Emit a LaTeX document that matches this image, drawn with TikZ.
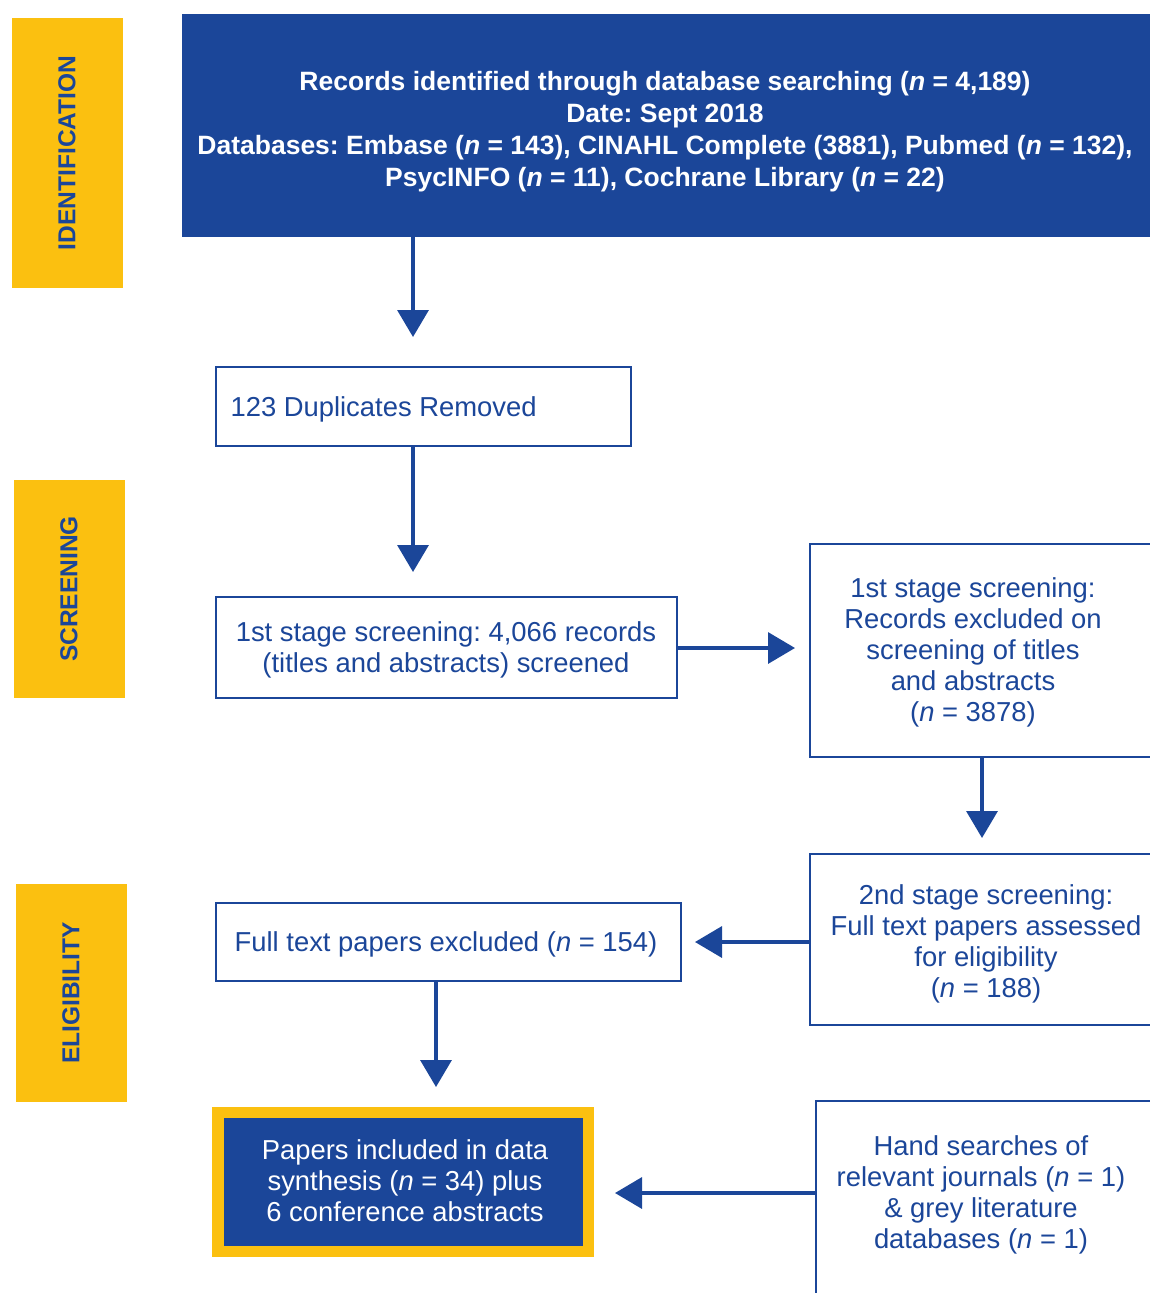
\documentclass[tikz,border=0pt]{standalone}
\usepackage{fontspec}
\setmainfont{Liberation Sans}
\usetikzlibrary{arrows.meta}
\definecolor{pblue}{RGB}{27,70,153}
\definecolor{pyellow}{RGB}{251,192,16}
\frenchspacing
\begin{document}
\begin{tikzpicture}[x=1pt,y=-1pt,
  tab/.style={fill=pyellow,draw=none},
  tablabel/.style={rotate=90,text=pblue,font=\fontsize{24.5}{28}\selectfont\bfseries},
  wbox/.style={draw=pblue,line width=2.4pt,fill=white},
  btext/.style={text=pblue,align=center,font=\fontsize{27.4}{31}\selectfont},
  arr/.style={draw=pblue,line width=3.4pt,-{Triangle[width=31pt,length=27pt]}}]
\useasboundingbox (0,0) rectangle (1150,1293);
\begin{scope}
\clip (0,0) rectangle (1150,1293);
% tabs
\fill[tab] (12,18) rectangle (123,288);
\node[tablabel] (lid) at (67,153) {IDENTIFICATION};
\fill[tab] (14,480) rectangle (125,698);
\node[tablabel] (lsc) at (69,589) {SCREENING};
\fill[tab] (16,884) rectangle (127,1102);
\node[tablabel] (lel) at (71,993) {ELIGIBILITY};
% top box
\fill[pblue] (182,14) rectangle (1150,237);
\node[text=white,align=center,font=\fontsize{26.5}{32}\selectfont\bfseries] (top) at (665,132)
 {Records identified through database searching (\textit{n} = 4,189)\\
  Date: Sept 2018\\
  Databases: Embase (\textit{n} = 143), CINAHL Complete (3881), Pubmed (\textit{n} = 132),\\
  PsycINFO (\textit{n} = 11), Cochrane Library (\textit{n} = 22)};
\coordinate (topa) at (413,237);
% duplicates
\draw[wbox] (216,367) rectangle (631,446);
\node[btext,anchor=west] (dup) at (227,409) {123 Duplicates Removed};
\coordinate (dupt) at (413,367);
\coordinate (dupb) at (413,446);
% first stage
\draw[wbox] (216,597) rectangle (677,698);
\node[btext] (fs) at (446,650) {1st stage screening: 4,066 records\\(titles and abstracts) screened};
\coordinate (fst) at (413,597);
\coordinate (fsr) at (677,648);
% right box 1
\draw[wbox] (810,544) rectangle (1160,757);
\node[btext] (ex1) at (973,652) {1st stage screening:\\Records excluded on\\screening of titles\\and abstracts\\(\textit{n} = 3878)};
\coordinate (ex1l) at (810,648);
\coordinate (ex1b) at (982,757);
% right box 2
\draw[wbox] (810,854) rectangle (1160,1025);
\node[btext] (ss) at (986,944) {2nd stage screening:\\Full text papers assessed\\for eligibility\\(\textit{n} = 188)};
\coordinate (sst) at (982,854);
\coordinate (ssl) at (810,942);
% full text excluded
\draw[wbox] (216,903) rectangle (681,981);
\node[btext] (fte) at (446,944) {Full text papers excluded (\textit{n} = 154)};
\coordinate (fter) at (681,942);
\coordinate (fteb) at (436,981);
% included
\fill[pyellow] (212,1107) rectangle (594,1257);
\fill[pblue] (224,1118) rectangle (583,1246);
\node[text=white,align=center,font=\fontsize{27.4}{31}\selectfont] (inc) at (405,1181)
 {Papers included in data\\synthesis (\textit{n} = 34) plus\\6 conference abstracts};
\coordinate (inct) at (436,1107);
\coordinate (incr) at (594,1193);
% hand searches
\draw[wbox] (816,1101) rectangle (1160,1310);
\node[btext] (hs) at (981,1195) {Hand searches of\\relevant journals (\textit{n} = 1)\\\& grey literature\\databases (\textit{n} = 1)};
\coordinate (hsl) at (816,1193);
% arrows
\draw[arr] (topa) -- ([yshift=30pt]dupt);
\draw[arr] (dupb) -- ([yshift=25pt]fst);
\draw[arr] (fsr) -- ([xshift=-15pt]ex1l);
\draw[arr] (ex1b) -- ([yshift=16pt]sst);
\draw[arr] (ssl) -- ([xshift=14pt]fter);
\draw[arr] (fteb) -- ([yshift=20pt]inct);
\draw[arr] (hsl) -- ([xshift=21pt]incr);
\end{scope}
\end{tikzpicture}
\end{document}
